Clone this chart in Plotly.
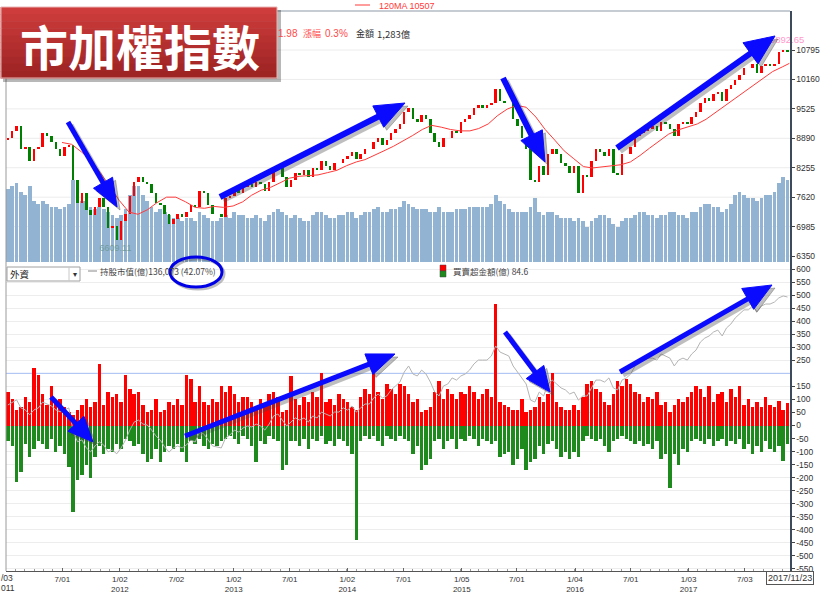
import math
import pandas as pd
import plotly.graph_objects as go

dates = pd.date_range("2011-01-07", periods=180, freq="14D")

close_2011 = [8900, 9050, 9145, 8650, 8700, 8400, 8650, 8700, 9000, 8950, 8800, 8650, 8500,
              8700, 8750, 8000, 7500, 7700, 7350, 7225, 7400, 7600, 7400, 6950, 7000, 6700]
close_2012 = [7100, 7250, 7650, 7950, 8050, 7950, 7900, 7700, 7500, 7450, 7250, 7050, 7150,
              7250, 7200, 7300, 7450, 7400, 7750, 7700, 7450, 7250, 7250, 7200, 7600, 7650]
close_2013 = [7800, 7700, 7850, 7900, 7850, 7950, 7900, 7750, 7950, 8200, 8250, 8050, 7850,
              8000, 8150, 8100, 8200, 8050, 8250, 8200, 8400, 8300, 8200, 8350, 8350, 8450]
close_2014 = [8500, 8600, 8450, 8550, 8650, 8650, 8800, 8900, 8750, 8850, 9000, 9100, 9200,
              9450, 9550, 9300, 9250, 9400, 9300, 9000, 8800, 8700, 8900, 8900, 9050, 9000]
close_2015 = [9250, 9300, 9400, 9550, 9600, 9550, 9600, 9650, 9950, 9700, 9650, 9650, 9300,
              9150, 8900, 8650, 8000, 7950, 8300, 8100, 8550, 8650, 8550, 8350, 8300, 8150]
close_2016 = [8300, 7700, 8100, 8050, 8400, 8650, 8600, 8500, 8650, 8150, 8100, 8550, 8550,
              8700, 8950, 9000, 9050, 9100, 9150, 9050, 9250, 9200, 9100, 8950, 9200, 9250, 9200]
close_2017 = [9350, 9450, 9650, 9750, 9700, 9850, 9900, 9700, 9950, 10050, 10150, 10250, 10400,
              10400, 10500, 10300, 10450, 10500, 10450, 10500, 10750, 10800, 10750]
first_open = 8850

volume_2011 = [1250, 1300, 1350, 1200, 1150, 1300, 1050, 1000, 1050, 1000, 950, 950, 900,
               950, 1000, 1400, 1350, 1050, 1050, 950, 900, 950, 900, 850, 800, 750]
volume_2012 = [800, 900, 1150, 1300, 1300, 1150, 1050, 950, 850, 900, 850, 800, 750,
               750, 700, 750, 750, 700, 850, 800, 750, 700, 700, 750, 800, 750]
volume_2013 = [850, 800, 800, 750, 750, 800, 750, 700, 800, 850, 900, 850, 800,
               750, 800, 750, 700, 700, 800, 850, 850, 800, 750, 750, 800, 800]
volume_2014 = [850, 850, 750, 800, 850, 850, 900, 950, 850, 850, 900, 900, 950,
               1050, 1000, 950, 900, 900, 900, 850, 850, 950, 850, 850, 850, 900]
volume_2015 = [900, 900, 950, 950, 950, 950, 950, 1000, 1150, 1050, 1000, 900, 850,
               850, 850, 850, 950, 1100, 850, 800, 850, 850, 800, 750, 750, 750]
volume_2016 = [700, 750, 700, 600, 700, 750, 800, 800, 750, 650, 600, 700, 750,
               750, 800, 850, 850, 800, 800, 750, 800, 800, 850, 850, 800, 800, 750]
volume_2017 = [850, 850, 950, 1000, 1000, 950, 950, 850, 900, 1000, 1150, 1200, 1150,
               1100, 1100, 1050, 1100, 1150, 1150, 1200, 1350, 1450, 1400]

ma_dates = list(pd.date_range("2011-06-30", "2017-10-31", freq="ME")) + [pd.Timestamp("2017-11-23")]
ma120 = [8800, 8760, 8600, 8420, 8150, 7850, 7550,
         7300, 7250, 7350, 7500, 7620, 7620, 7520, 7400, 7380, 7420, 7400, 7430,
         7520, 7660, 7770, 7830, 7930, 8030, 8070, 8080, 8100, 8150, 8200, 8300,
         8380, 8430, 8520, 8620, 8720, 8830, 8950, 9080, 9170, 9130, 9080, 9050,
         9050, 9100, 9200, 9380, 9520, 9600, 9560, 9350, 9080, 8850, 8620, 8450,
         8280, 8250, 8270, 8300, 8320, 8380, 8520, 8680, 8830, 8980, 9070, 9130,
         9200, 9300, 9450, 9600, 9750, 9900, 10050, 10200, 10330, 10430, 10507]

buy_2011 = [130, 100, 60, 70, 110, 90, 220, 195, 120, 80, 150, 90, 100, 70, 50, 40, 60, 80, 100, 70, 90, 235, 80, 130, 110, 120]
buy_2012 = [90, 195, 140, 120, 130, 80, 50, 60, 100, 50, 60, 90, 80, 100, 80, 195, 180, 90, 150, 90, 80, 100, 90, 150, 130, 150]
buy_2013 = [120, 90, 110, 110, 90, 60, 100, 80, 120, 130, 110, 50, 60, 190, 100, 80, 110, 90, 130, 110, 200, 90, 100, 80, 120, 100]
buy_2014 = [90, 70, 60, 110, 140, 120, 210, 130, 100, 160, 140, 120, 160, 150, 120, 90, 100, 50, 60, 70, 130, 170, 100, 140, 120, 100]
buy_2015 = [130, 120, 150, 130, 100, 120, 140, 110, 465, 90, 80, 70, 60, 60, 100, 50, 60, 70, 110, 90, 120, 200, 90, 70, 60, 60]
buy_2016 = [80, 60, 110, 160, 170, 140, 130, 90, 80, 120, 170, 150, 180, 160, 130, 120, 90, 110, 100, 130, 80, 90, 50, 80, 100, 90, 110]
buy_2017 = [130, 150, 140, 110, 150, 90, 120, 130, 90, 140, 110, 150, 80, 100, 70, 90, 70, 110, 80, 70, 95, 60, 84.6]

sell_2011 = [-60, -80, -215, -178, -70, -120, -90, -60, -70, -90, -50, -100, -80, -110, -160, -330, -210, -190, -150, -200, -120, -80, -110, -90, -100, -70]
sell_2012 = [-90, -50, -60, -80, -70, -110, -140, -130, -90, -140, -100, -80, -90, -70, -100, -140, -60, -70, -50, -80, -90, -70, -80, -60, -50, -40]
sell_2013 = [-50, -70, -40, -50, -80, -140, -60, -70, -40, -50, -60, -170, -150, -60, -60, -80, -50, -90, -50, -60, -40, -70, -60, -80, -50, -60]
sell_2014 = [-80, -110, -440, -60, -40, -50, -40, -60, -80, -40, -50, -60, -40, -50, -60, -110, -80, -170, -150, -130, -60, -50, -90, -60, -50, -90]
sell_2015 = [-50, -60, -40, -50, -80, -50, -60, -70, -60, -120, -110, -100, -150, -130, -90, -170, -140, -130, -80, -110, -70, -60, -90, -120, -100, -130]
sell_2016 = [-100, -120, -60, -40, -50, -60, -50, -80, -100, -60, -50, -40, -50, -60, -70, -60, -80, -70, -90, -60, -130, -110, -240, -110, -150, -90, -100]
sell_2017 = [-60, -50, -60, -70, -50, -80, -60, -50, -80, -60, -70, -50, -90, -70, -110, -80, -100, -60, -90, -100, -80, -135, -70]

hold_2011 = [81000, 82500, 83600, 79500, 78500, 76000, 78500, 79500, 82500, 81500, 80500, 78500, 77500,
             78500, 79500, 67300, 62200, 63200, 59100, 57100, 60100, 62200, 60600, 57100, 58000, 56100]
hold_2012 = [59100, 63100, 68200, 72300, 73300, 71300, 70800, 68200, 65200, 63100, 59600, 57000, 59100,
             60100, 59100, 60600, 63100, 62100, 67200, 66200, 63100, 60100, 59600, 59100, 64200, 65700]
hold_2013 = [68200, 67200, 69300, 70300, 69800, 71300, 70300, 68200, 71300, 75400, 76400, 73300, 70300,
             72300, 74400, 73300, 74400, 72300, 75400, 74400, 77400, 76400, 75400, 77400, 77400, 79500]
hold_2014 = [78400, 80500, 77400, 79500, 81500, 81500, 84600, 86600, 84600, 85600, 88700, 90700, 92700,
             97800, 100900, 96800, 95800, 98800, 96800, 92700, 87600, 85600, 90700, 91700, 94800, 93700]
hold_2015 = [95800, 96800, 98800, 101900, 103900, 103900, 103900, 106000, 111100, 108000, 107000, 106000, 100900,
             97800, 94800, 91700, 83500, 82500, 87600, 85600, 91700, 93700, 91700, 89700, 88700, 86600]
hold_2016 = [87600, 83500, 85600, 85600, 89700, 93700, 93700, 92700, 94800, 89700, 88700, 93700, 94800,
             96800, 100900, 102900, 103900, 104900, 104900, 103900, 107000, 106000, 104900, 100900, 103900, 104900, 103900]
hold_2017 = [107000, 109000, 113100, 115100, 116200, 118200, 119200, 116200, 120300, 122300, 125400, 127400, 129500,
             129500, 131500, 128500, 131500, 132500, 132500, 133500, 135600, 136600, 136073]

price_ticks = [6350, 6985, 7620, 8255, 8890, 9525, 10160, 10795]
net_ticks = [v for v in range(-550, 601, 50) if v != 200]
x_tick_dates = ["2011-01-03", "2011-07-01", "2012-01-02", "2012-07-02", "2013-01-02", "2013-07-01",
                "2014-01-02", "2014-07-01", "2015-01-05", "2015-07-01", "2016-01-04", "2016-07-01",
                "2017-01-03", "2017-07-03"]
x_tick_text = ["", "7/01", "1/02<br>2012", "7/02", "1/02<br>2013", "7/01",
               "1/02<br>2014", "7/01", "1/05<br>2015", "7/01", "1/04<br>2016", "7/01",
               "1/03<br>2017", "7/03"]
first_tick_text = ["/03", "011"]   # "1/03 2011", cut by the left edge

close = close_2011 + close_2012 + close_2013 + close_2014 + close_2015 + close_2016 + close_2017
volume = volume_2011 + volume_2012 + volume_2013 + volume_2014 + volume_2015 + volume_2016 + volume_2017
buy = buy_2011 + buy_2012 + buy_2013 + buy_2014 + buy_2015 + buy_2016 + buy_2017
sell = sell_2011 + sell_2012 + sell_2013 + sell_2014 + sell_2015 + sell_2016 + sell_2017
hold = hold_2011 + hold_2012 + hold_2013 + hold_2014 + hold_2015 + hold_2016 + hold_2017
opens = [first_open] + close[:-1]
body = [c - o for o, c in zip(opens, close)]
candle_colors = ["#ff0000" if b >= 0 else "#008000" for b in body]

# ---------------- geometry helpers ----------------
W, H = 820, 593
L, R, T, B = 6, 790, 11, 571
SPLIT = 262
def px(x): return (x - L) / (R - L)
def py(y): return (B - y) / (B - T)
top_dom = [py(SPLIT), 1]
low_dom = [0, py(SPLIT)]

SANS = "Liberation Sans, Arial, sans-serif"
CJK = "Noto Sans CJK TC, Noto Sans CJK SC, sans-serif"
DAY = 86400000

fig = go.Figure()
fig.add_trace(go.Bar(x=dates, y=volume, xaxis="x", yaxis="y", marker_color="#93b3d2",
                     marker_line_width=0, width=12 * DAY))
fig.add_trace(go.Bar(x=dates, y=body, base=opens, xaxis="x", yaxis="y2",
                     marker=dict(color=candle_colors, line=dict(width=0)), width=8 * DAY))
fig.add_trace(go.Scatter(x=ma_dates, y=ma120, xaxis="x", yaxis="y2", mode="lines",
                         line=dict(color="#ff3a3a", width=1)))
fig.add_trace(go.Scatter(x=["2011-12-19"], y=[6609.11], xaxis="x", yaxis="y2", mode="text",
                         text=["6609.11"], textposition="bottom center", cliponaxis=False,
                         textfont=dict(color="#6f9c9c", size=9, family=SANS)))
fig.add_trace(go.Scatter(x=["2017-11-07"], y=[10892.65], xaxis="x", yaxis="y2", mode="text",
                         text=["10892.65"], textposition="top center", cliponaxis=False,
                         textfont=dict(color="#ff99cc", size=9.5, family=SANS)))
fig.add_trace(go.Bar(x=dates, y=buy, xaxis="x", yaxis="y3", marker_color="#ff0000",
                     marker_line_width=0, width=11 * DAY))
fig.add_trace(go.Bar(x=dates, y=sell, xaxis="x", yaxis="y3", marker_color="#1e8a1e",
                     marker_line_width=0, width=11 * DAY))
fig.add_trace(go.Scatter(x=dates, y=hold, xaxis="x", yaxis="y4", mode="lines",
                         line=dict(color="#b4b4b4", width=1)))

shapes = []
annotations = []

for v in price_ticks:
    shapes.append(dict(type="line", xref="paper", yref="y2", x0=0, x1=1, y0=v, y1=v,
                       line=dict(color="#ececec", width=1), layer="below"))
shapes.append(dict(type="line", xref="paper", yref="y3", x0=0, x1=1, y0=200, y1=200,
                   line=dict(color="#a4bcf2", width=1), layer="below"))
shapes.append(dict(type="line", xref="paper", yref="paper", x0=px(L), x1=px(R), y0=py(T), y1=py(T),
                   line=dict(color="#8d99a6", width=1)))
shapes.append(dict(type="line", xref="paper", yref="paper", x0=px(L), x1=px(L), y0=py(T), y1=py(B),
                   line=dict(color="#9a9a9a", width=1)))

def P(x, y):
    return f"{px(x):.5f},{py(y):.5f}"

def arrow(tail, tip, hl, hw, sw, color, dx=0, dy=0):
    x0, y0 = tail[0] + dx, tail[1] + dy
    x1, y1 = tip[0] + dx, tip[1] + dy
    d = math.hypot(x1 - x0, y1 - y0)
    ux, uy = (x1 - x0) / d, (y1 - y0) / d
    nx, ny = -uy, ux
    bx, by = x1 - hl * ux, y1 - hl * uy
    return [dict(type="line", xref="paper", yref="paper", x0=px(x0), y0=py(y0),
                 x1=px(bx + 3 * ux), y1=py(by + 3 * uy), line=dict(color=color, width=sw), layer="above"),
            dict(type="path", xref="paper", yref="paper",
                 path=f"M{P(x1, y1)} L{P(bx + hw * nx, by + hw * ny)} L{P(bx - hw * nx, by - hw * ny)} Z",
                 fillcolor=color, line=dict(color=color, width=1), layer="above")]

arrows = [((68, 122), (117, 207), 28, 11, 5),
          ((220, 197), (405, 103), 30, 12, 6),
          ((503, 78), (545, 162), 30, 12, 6),
          ((617, 148), (775, 36), 30, 13, 6),
          ((51, 397), (93, 442), 25, 11, 5),
          ((185, 436), (395, 354), 28, 11, 5),
          ((505, 332), (550, 392), 25, 11, 5),
          ((620, 372), (772, 285), 28, 12, 5)]
for a in arrows:
    shapes += arrow(*a, "rgba(70,70,70,0.35)", 3, 3)
for a in arrows:
    shapes += arrow(*a, "#0a0aff")

shapes.append(dict(type="circle", xref="paper", yref="paper", x0=px(172), x1=px(224), y0=py(289), y1=py(259),
                   line=dict(color="rgba(70,70,70,0.35)", width=3), layer="above"))
shapes.append(dict(type="circle", xref="paper", yref="paper", x0=px(170), x1=px(222), y0=py(287), y1=py(257),
                   line=dict(color="#0000e6", width=3), layer="above"))

# banner
shapes.append(dict(type="rect", xref="paper", yref="paper", x0=px(3), x1=px(281), y0=py(82), y1=py(10),
                   fillcolor="rgba(0,0,0,0.28)", line=dict(width=0), layer="above"))
nb = 10
c0, c1 = (206, 60, 60), (158, 36, 36)
for i in range(nb):
    t = i / (nb - 1)
    col = "rgb({},{},{})".format(*[int(a + (b - a) * t) for a, b in zip(c0, c1)])
    ya = 7 + (78 - 7) * i / nb
    yb = 7 + (78 - 7) * (i + 1) / nb
    shapes.append(dict(type="rect", xref="paper", yref="paper", x0=px(0.5), x1=px(277),
                       y0=py(yb + 0.5), y1=py(ya), fillcolor=col, line=dict(width=0), layer="above"))
shapes.append(dict(type="rect", xref="paper", yref="paper", x0=px(1), x1=px(277), y0=py(78), y1=py(7),
                   fillcolor="rgba(0,0,0,0)", line=dict(color="#e9b4b4", width=1), layer="above"))
annotations.append(dict(xref="paper", yref="paper", x=px(140), y=py(45), xanchor="center", yanchor="middle",
                        text="<b>市加權指數</b>", showarrow=False,
                        font=dict(family=CJK, size=48, color="white")))

def label(x, y, text, color, size=9, family=CJK, anchor="left", yanchor="middle"):
    annotations.append(dict(xref="paper", yref="paper", x=px(x), y=py(y), xanchor=anchor, yanchor=yanchor,
                            text=text, showarrow=False, borderpad=0,
                            font=dict(family=family, size=size, color=color)))

# header rows
shapes.append(dict(type="line", xref="paper", yref="paper", x0=px(355), x1=px(370), y0=py(5), y1=py(5),
                   line=dict(color="#ff3a3a", width=1)))
label(378, 0, "120MA 10507", "#ff3a3a", 9, SANS, yanchor="top")
label(277, 34, "1.98", "#ff4a4a", 10, SANS)
label(302, 34, "漲幅", "#ff4a4a", 9)
label(324, 34, "0.3%", "#ff4a4a", 10, SANS)
label(355, 34, "金額", "#333333", 9)
label(376, 34, "1,283億", "#333333", 9.5)

# lower panel header
shapes.append(dict(type="rect", xref="paper", yref="paper", x0=px(7), x1=px(80), y0=py(281), y1=py(267),
                   fillcolor="white", line=dict(color="#a0a0a0", width=1), layer="above"))
shapes.append(dict(type="line", xref="paper", yref="paper", x0=px(69), x1=px(69), y0=py(281), y1=py(267),
                   line=dict(color="#c8c8c8", width=1), layer="above"))
label(9, 274, "外資", "#222", 9.5)
label(74.5, 274, "▾", "#333", 8, "DejaVu Sans", "center")
shapes.append(dict(type="line", xref="paper", yref="paper", x0=px(88), x1=px(97), y0=py(271), y1=py(271),
                   line=dict(color="#888", width=1), layer="above"))
label(99, 271, "持股市值(億)136,073 (42.07%)", "#444", 8.5)
shapes.append(dict(type="rect", xref="paper", yref="paper", x0=px(440), x1=px(446), y0=py(271), y1=py(265),
                   fillcolor="#ff0000", line=dict(color="#444", width=0.5), layer="above"))
shapes.append(dict(type="rect", xref="paper", yref="paper", x0=px(440), x1=px(446), y0=py(277), y1=py(271),
                   fillcolor="#1e8a1e", line=dict(color="#444", width=0.5), layer="above"))
label(452, 271, "買賣超金額(億) 84.6", "#444", 8.5)

# first date tick label, cut by the figure edge
label(0, 578, first_tick_text[0], "#333", 8.5, SANS)
label(0, 588, first_tick_text[1], "#333", 8.5, SANS)

annotations.append(dict(xref="paper", yref="paper", x=px(790), y=py(578), xanchor="center", yanchor="middle",
                        text="2017/11/23", showarrow=False, bgcolor="white", bordercolor="#555",
                        borderwidth=1, borderpad=1, font=dict(family=SANS, size=9, color="#333")))

axis_font = dict(family=SANS, size=8.5, color="#333")
fig.update_layout(
    width=W, height=H, margin=dict(l=L, r=W - R, t=T, b=H - B, autoexpand=False),
    paper_bgcolor="white", plot_bgcolor="white",
    showlegend=False, hovermode=False, barmode="overlay", bargap=0,
    xaxis=dict(type="date", range=["2011-01-01", "2017-11-25"], anchor="y3", domain=[0, 1],
               tickvals=x_tick_dates, ticktext=x_tick_text, tickfont=dict(family=SANS, size=8, color="#333"),
               ticks="inside", ticklen=3, tickcolor="#666", showgrid=False, showline=True,
               linecolor="#555", linewidth=1, automargin=False,
               minor=dict(dtick="M1", ticks="inside", ticklen=2, tickcolor="#999", showgrid=False)),
    yaxis=dict(domain=top_dom, range=[0, 4300], visible=False, fixedrange=True, automargin=False),
    yaxis2=dict(domain=top_dom, overlaying="y", side="right", anchor="x", automargin=False,
                range=[6221, 11637], tickvals=price_ticks, ticktext=[str(v) for v in price_ticks],
                tickfont=axis_font, ticks="outside", ticklen=3, tickcolor="#444",
                showgrid=False, zeroline=False, showline=True, linecolor="#3d4a5c", linewidth=1.5),
    yaxis3=dict(domain=low_dom, side="right", anchor="x", range=[-558, 627], automargin=False,
                tickvals=net_ticks, ticktext=[str(v) for v in net_ticks], tickfont=axis_font,
                ticks="outside", ticklen=3, tickcolor="#444", showgrid=True, gridcolor="#ededed",
                zeroline=False, showline=True, linecolor="#3d4a5c", linewidth=1.5),
    yaxis4=dict(domain=low_dom, overlaying="y3", range=[-3667, 153923], visible=False, automargin=False),
    shapes=shapes, annotations=annotations,
)

fig.write_html("out.html", config={"displayModeBar": False, "staticPlot": True},
               post_script="document.body.style.margin='0';")
